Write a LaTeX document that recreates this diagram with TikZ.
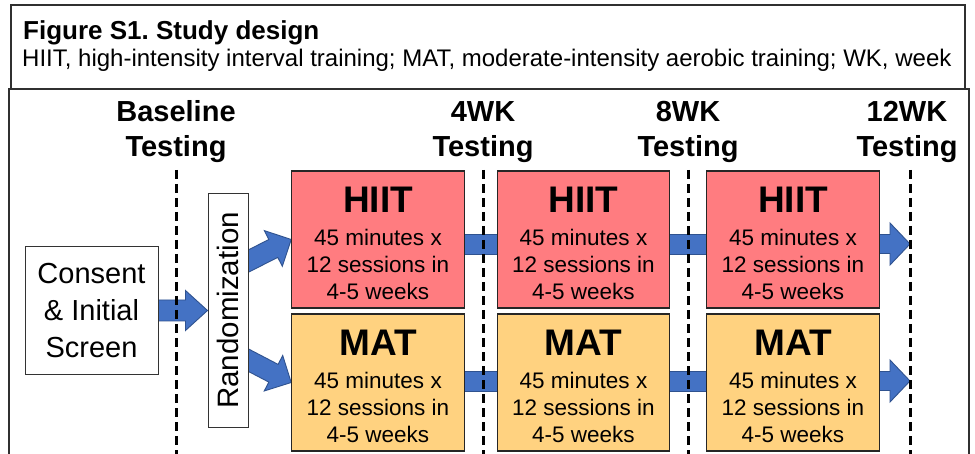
\documentclass[tikz,border=0pt]{standalone}
\usepackage{fontspec}
\setmainfont{Liberation Sans}
\frenchspacing
\usetikzlibrary{calc,backgrounds}
\definecolor{hiitred}{HTML}{FF7C80}
\definecolor{matgold}{HTML}{FFD280}
\definecolor{arrblue}{HTML}{4472C4}
\definecolor{arrline}{HTML}{2F528F}
\definecolor{frameline}{HTML}{303030}
% block arrow: #1 start, #2 tip, #3 shaft half width, #4 head half width, #5 head length
\newcommand\blockarrow[5]{%
  \coordinate (ba-h) at ($(#2)!#5!(#1)$);
  \filldraw[arrowbody] ($(#1)!#3!90:(#2)$) -- ($(ba-h)!#3!90:(#2)$) -- ($(ba-h)!#4!90:(#2)$) -- (#2)
    -- ($(ba-h)!#4!-90:(#2)$) -- ($(ba-h)!#3!-90:(#2)$) -- ($(#1)!#3!-90:(#2)$) -- cycle;
}
\begin{document}
\begin{tikzpicture}[x=1pt,y=1pt,
  framebox/.style={draw=frameline, line width=1.1pt, inner sep=0pt},
  trainbox/.style={draw=black!85, line width=1.1pt, minimum width=172.5pt, minimum height=137pt, inner sep=0pt},
  hiitbox/.style={trainbox, fill=hiitred},
  matbox/.style={trainbox, fill=matgold},
  plainbox/.style={draw=black!80, line width=1pt, fill=white, inner sep=0pt},
  arrowbody/.style={fill=arrblue, draw=arrline, line width=0.9pt, line join=miter},
  testline/.style={line width=3pt, dash pattern=on 9pt off 5pt},
  hdr/.style={font=\fontsize{29}{35}\selectfont\bfseries, align=center, inner sep=0pt},
  boxtitle/.style={font=\fontsize{37}{40}\selectfont\bfseries, anchor=base, inner sep=0pt},
  boxbody/.style={font=\fontsize{22.5}{27}\selectfont, align=center, inner sep=0pt}
]
\useasboundingbox (0,0) rectangle (975,453);

% title box
\node[framebox, minimum width=954pt, minimum height=84pt] (titlebox) at (488,406) {};
\node[anchor=base west, inner sep=0pt, font=\fontsize{26}{30}\selectfont\bfseries] (title) at (23,413) {Figure S1. Study design};
\node[anchor=base west, inner sep=0pt, font=\fontsize{24}{28}\selectfont] (subtitle) at (22,386) {HIIT, high-intensity interval training; MAT, moderate-intensity aerobic training; WK, week};

% outer frame
\draw[frameline, line width=1.1pt] (9,-5) -- (9,364) -- (969,364) -- (969,-5);

% headers
\node[hdr] (hdr0) at (176,321) {Baseline\\Testing};
\node[hdr] (hdr1) at (483,321) {4WK\\Testing};
\node[hdr] (hdr2) at (688,321) {8WK\\Testing};
\node[hdr] (hdr3) at (907,321) {12WK\\Testing};

% left boxes
\node[plainbox, minimum width=133pt, minimum height=127pt, align=center, font=\fontsize{29}{37}\selectfont] (consent) at (91.5,142.5) {Consent\\\& Initial\\Screen};
\node[plainbox, rotate=90, minimum width=233pt, minimum height=40pt, font=\fontsize{29.5}{35}\selectfont] (rand) at (228,142.5) {Randomization};

% training boxes
\foreach \c/\x in {1/378,2/583.5,3/793}{
  \node[hiitbox] (hiit\c) at (\x,213.5) {};
  \node[boxtitle] (hiit\c t) at ($(hiit\c.north)+(0,-42)$) {HIIT};
  \node[boxbody] (hiit\c b) at ($(hiit\c.center)+(0,-24.5)$) {45 minutes x\\12 sessions in\\4-5 weeks};
  \node[matbox] (mat\c) at (\x,70.5) {};
  \node[boxtitle] (mat\c t) at ($(mat\c.north)+(0,-42.5)$) {MAT};
  \node[boxbody] (mat\c b) at ($(mat\c.center)+(0,-24.5)$) {45 minutes x\\12 sessions in\\4-5 weeks};
}

% testing lines
\coordinate (t0) at (176,283);
\coordinate (t1) at (483,283);
\coordinate (t2) at (688,283);
\coordinate (t3) at (910,283);

\begin{scope}[on background layer]
  \fill[white] (0,0) rectangle (975,453);
  % consent -> randomization (rand is rotated: rand.north is its left side, rand.south its right side)
  \coordinate (h0) at ($(consent.east)+(-6,0)$);
  \blockarrow{h0}{rand.north}{10.5pt}{20pt}{22pt}
  % randomization -> arms
  \coordinate (u0) at ($(rand.south)+(-10,44.5)$);
  \blockarrow{u0}{hiit1.west}{10pt}{20pt}{20pt}
  \coordinate (l0) at ($(rand.south)+(-10,-44.5)$);
  \blockarrow{l0}{mat1.west}{10pt}{20pt}{20pt}
  % bars between boxes
  \filldraw[arrowbody] ($(hiit1.east)+(-4,5.5)$) rectangle ($(hiit2.west)+(4,-14.5)$);
  \filldraw[arrowbody] ($(hiit2.east)+(-4,5.5)$) rectangle ($(hiit3.west)+(4,-14.5)$);
  \filldraw[arrowbody] ($(mat1.east)+(-4,11.5)$) rectangle ($(mat2.west)+(4,-8.5)$);
  \filldraw[arrowbody] ($(mat2.east)+(-4,11.5)$) rectangle ($(mat3.west)+(4,-8.5)$);
  % final arrows
  \coordinate (f1s) at ($(hiit3.east)+(-4,-4.5)$);
  \coordinate (f1t) at (t3 |- f1s);
  \blockarrow{f1s}{f1t}{9.5pt}{21pt}{20pt}
  \coordinate (f2s) at ($(mat3.east)+(-4,1.5)$);
  \coordinate (f2t) at (t3 |- f2s);
  \blockarrow{f2s}{f2t}{9.5pt}{21pt}{20pt}
\end{scope}

\foreach \t in {t0,t1,t2,t3}{
  \draw[testline] (\t) -- (\t |- 0,-6);
}
\end{tikzpicture}
\end{document}
